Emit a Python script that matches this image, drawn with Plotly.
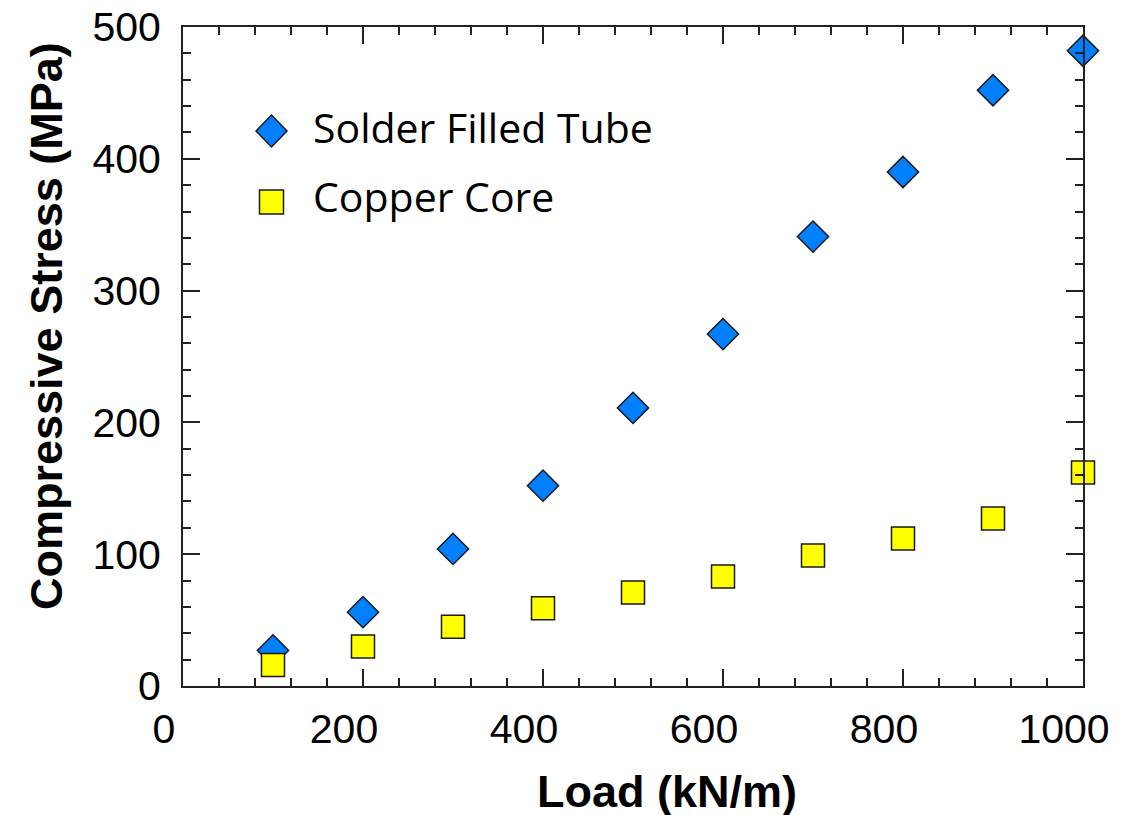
import plotly.graph_objects as go

# ---- data ----
load = [100, 200, 300, 400, 500, 600, 700, 800, 900, 1000]
solder_filled_tube = [27, 56, 104, 152, 211, 267, 341, 390, 452, 482]
copper_core = [16, 30, 45, 59, 71, 83, 99, 112, 127, 162]
x_ticks = [0, 200, 400, 600, 800, 1000]
y_ticks = [0, 100, 200, 300, 400, 500]

# page body has an 8px margin, so the figure is a bit smaller than the window
OFF = 8
W, H = 1140 - OFF, 815 - OFF
L, R, T, B = 183 - OFF, 57, 27 - OFF, 129
PW, PH = W - L - R, H - T - B

def px(x):  # screen pixel -> paper
    return (x - OFF - L) / PW

def py(y):
    return (H - B - (y - OFF)) / PH

BLUE = "#0080FF"
YELLOW = "#FFFF00"
EDGE = "#1a1a1a"

fig = go.Figure()
fig.add_trace(go.Scatter(
    x=load, y=solder_filled_tube, mode="markers", name="Solder Filled Tube",
    marker=dict(symbol="diamond", size=24, color=BLUE, line=dict(color=EDGE, width=1.5)),
    cliponaxis=False, showlegend=False))
fig.add_trace(go.Scatter(
    x=load, y=copper_core, mode="markers", name="Copper Core",
    marker=dict(symbol="square", size=23, color=YELLOW, line=dict(color=EDGE, width=1.5)),
    cliponaxis=False, showlegend=False))

axis_common = dict(
    showgrid=False, zeroline=False, showline=True, linecolor="#222", linewidth=2,
    mirror="ticks", ticks="inside", ticklen=17, tickwidth=2, tickcolor="#222",
    automargin=False, ticklabeloverflow="allow",
    tickfont=dict(family="Liberation Sans, Arial", size=41, color="black"),
)
fig.update_xaxes(range=[0, 1000], tickvals=x_ticks, ticklabelshift=-19,
                 ticklabelstandoff=6,
                 minor=dict(dtick=40, ticks="inside", ticklen=8, tickwidth=2, tickcolor="#222"),
                 **axis_common)
fig.update_yaxes(range=[0, 500], tickvals=y_ticks, ticklabelstandoff=12,
                 minor=dict(dtick=20, ticks="inside", ticklen=8, tickwidth=2, tickcolor="#222"),
                 **axis_common)

# legend keys (paper coords)
cx, cy, hw, hh = 271.5, 131, 15.5, 16
fig.add_shape(type="path", xref="paper", yref="paper",
              path=f"M {px(cx-hw)} {py(cy)} L {px(cx)} {py(cy-hh)} L {px(cx+hw)} {py(cy)} L {px(cx)} {py(cy+hh)} Z",
              fillcolor=BLUE, line=dict(color=EDGE, width=1.5))
sx, sy, sh = 271.5, 202, 12
fig.add_shape(type="rect", xref="paper", yref="paper",
              x0=px(sx-sh), x1=px(sx+sh), y0=py(sy+sh), y1=py(sy-sh),
              fillcolor=YELLOW, line=dict(color=EDGE, width=1.5))

leg_font = dict(family="Open Sans", size=41, color="black")
fig.add_annotation(text="Solder Filled Tube", xref="paper", yref="paper",
                   x=px(311), y=py(127), xanchor="left", yanchor="middle",
                   showarrow=False, font=leg_font)
fig.add_annotation(text="Copper Core", xref="paper", yref="paper",
                   x=px(311), y=py(196), xanchor="left", yanchor="middle",
                   showarrow=False, font=leg_font)

title_font = dict(family="Liberation Sans, Arial", size=45, color="black")
fig.add_annotation(text="<b>Load (kN/m)</b>", xref="paper", yref="paper",
                   x=px(667), y=py(791), xanchor="center", yanchor="middle",
                   showarrow=False, font=title_font)
fig.add_annotation(text="<b>Compressive Stress (MPa)</b>", xref="paper", yref="paper",
                   x=px(46), y=py(326), xanchor="center", yanchor="middle",
                   textangle=-90, showarrow=False, font=title_font)

fig.update_layout(width=W, height=H, margin=dict(l=L, r=R, t=T, b=B),
                  paper_bgcolor="white", plot_bgcolor="white", showlegend=False)

fig.write_html("out.html")
